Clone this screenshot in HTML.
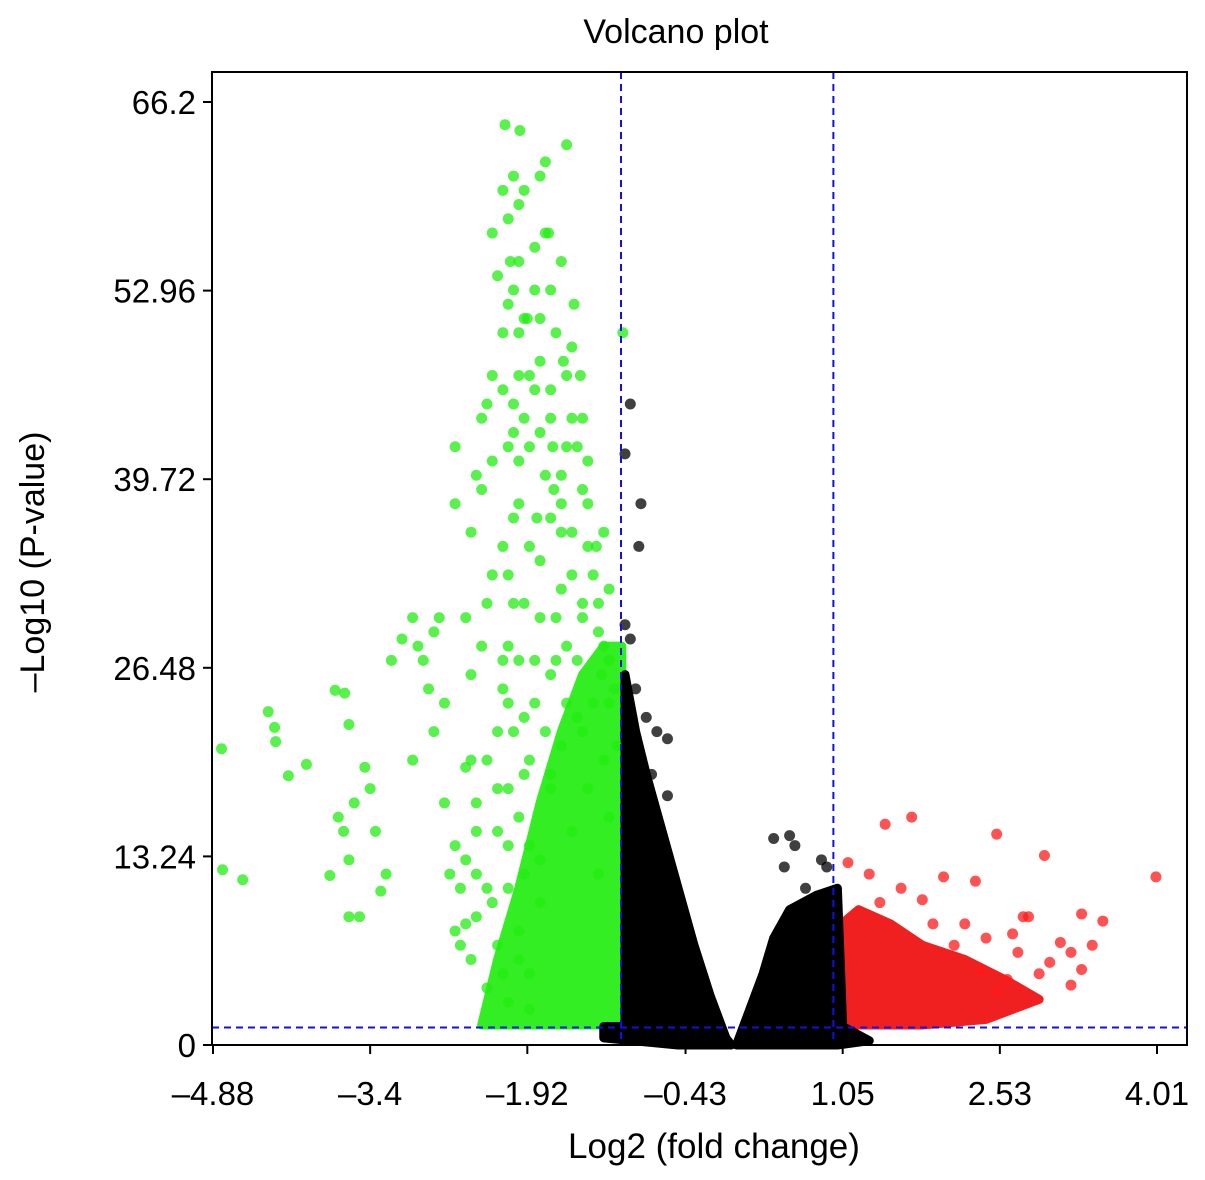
<!DOCTYPE html>
<html><head><meta charset="utf-8"><style>
html,body{margin:0;padding:0;background:#fff}
svg{display:block;font-family:"Liberation Sans",Arial,sans-serif}
</style></head><body>
<svg id="chart" width="1205" height="1180" viewBox="0 0 1205 1180">
<text x="676" y="43" font-size="34" text-anchor="middle">Volcano plot</text>
<g id="marks"></g>
<g id="axes"></g>
</svg>
<script>
const xTicks=[-4.88,-3.4,-1.92,-0.43,1.05,2.53,4.01];
const yTicks=[0,13.24,26.48,39.72,52.96,66.2];
const greenPts=[-4.8,20.8,-4.79,12.3,-4.6,11.6,-4.36,23.4,-4.3,22.3,-4.29,21.3,-4.17,18.9,-4.0,19.7,-3.73,24.9,-3.64,24.7,-3.6,22.5,-3.78,11.9,-3.7,16,-3.65,15,-3.6,13,-3.55,17,-3.6,9,-3.5,9,-3.45,19.5,-3.4,18,-3.35,15,-3.3,10.8,-3.25,12,-3.2,27,-3.1,28.5,-3.0,30,-3.0,20,-2.95,28,-2.9,27,-2.85,25,-2.8,22,-2.8,29,-2.75,30,-2.7,24,-2.7,17,-2.65,12,-2.6,8,-2.55,7,-2.5,8.5,-2.5,19.5,-2.45,20,-2.4,12,-2.4,15,-2.6,38,-2.45,36,-2.6,42,-2.25,10,-2.3,31,-2.2,22,-2.15,5,-2.1,14,-2.4,40,-2.35,39,-2.15,35,-2.3,45,-2.25,47,-2.15,60,-2.1,58,-2.05,61,-2.0,59,-2.0,55,-1.95,51,-2.13,64.6,-1.99,64.2,-1.8,61,-1.75,62,-1.75,57,-1.7,53,-1.55,63.2,-1.6,55,-1.55,47,-1.5,44,-1.45,42,-1.4,39,-1.02,50,-2.0,8,-2.1,28,-2.05,31,-1.85,24,-2.0,38,-2.05,45,-2.0,41,-1.8,34,-1.7,26,-1.85,46,-1.65,30,-1.6,36,-1.55,28,-1.5,33,-1.3,24,-1.4,30,-1.2,20,-1.3,33,-1.1,25,-1.2,28,-2.6,14,-2.55,11,-2.45,6,-2.45,26,-2.2,18,-2.15,25,-2.05,22,-1.95,19,-1.9,14,-2.15,50,-2.1,52,-2.05,43,-2.0,47,-1.9,42,-1.85,56,-1.8,48,-1.75,40,-1.7,44,-1.6,38,-1.35,35,-1.15,27,-1.25,31,-1.9,5,-1.8,10,-1.7,18,-1.6,21,-1.5,15,-1.45,23,-1.35,18,-1.25,12,-1.15,16,-2.08,55,-1.92,51,-1.72,57,-1.58,48,-1.83,37,-1.67,39,-1.68,42,-1.22,26,-1.27,35,-1.08,21,
-2.25,57,-1.95,60,-2.2,54,-2.05,53,-1.85,53,-1.65,50,-1.5,49,-2.0,50,-1.8,51,-2.15,46,-1.9,47,-1.7,46,-1.55,42,-1.4,44,-2.35,44,-2.25,41,-2.1,42,-1.95,44,-1.8,43,-1.6,40,-2.05,37,-1.9,35,-1.7,37,-1.5,36,-1.35,38,-1.2,36,-2.25,33,-2.1,33,-1.95,31,-1.8,30,-1.6,32,-1.4,31,-1.25,29,-2.15,27,-2.0,27,-1.85,27,-1.65,27,-1.45,27,-2.35,28,-2.5,30,-2.1,24,-1.95,23,-1.75,22,-1.55,24,-1.4,22,-2.3,20,-2.1,18,-1.9,20,-1.7,19,-2.4,17,-2.2,15,-2.0,16,-1.8,13,-2.5,13,-2.3,11,-2.1,11,-1.95,12,-2.4,9,-2.2,7,-2.0,6,-2.3,4,-2.1,3,-1.9,2.5,-1.35,41,-1.42,47,-1.48,52,-1.15,32,-1.15,24];
const greenCloud=[-2.35,1.4,-2.2,6,-2.0,11,-1.8,17,-1.6,22,-1.4,26,-1.2,28,-1.03,28,-1.03,1.4];
const redPts=[1.45,15.5,1.7,16,2.5,14.8,2.95,13.3,4.0,11.8,3.3,9.2,3.5,8.7,2.75,9,2.8,9,3.4,7,3.2,6.5,3.1,7.2,3.0,5.8,3.3,5.3,3.2,4.2,2.9,5,2.7,6.5,2.6,4.6,2.5,3.8,2.3,11.5,2.0,11.8,1.3,12,1.1,12.8,1.6,11,1.8,10.2,2.2,8.5,2.4,7.5,1.9,8.5,2.1,7,1.4,10,2.65,7.8,2.35,5.2];
const redCloud=[1.04,1.4,1.04,8.5,1.2,9.5,1.5,8.5,1.8,7,2.2,6,2.6,4.5,2.9,3.2,2.4,1.8,1.8,1.4];
const blackPts=[-0.95,45,-1.0,41.5,-0.85,38,-0.87,35,-1.0,29.5,-0.95,28.5,-0.8,23,-0.7,22,-0.6,21.5,-0.9,25,-0.75,19,-0.6,17.5,0.4,14.5,0.55,14.7,0.6,14,0.9,12.5,0.85,13,0.7,11,0.5,12.5];
const blackLeft=[-1.0,1.3,-1.0,26,-0.9,22,-0.8,19,-0.65,15,-0.5,11,-0.35,7,-0.2,3.5,-0.05,0.5,0,0,-0.5,0,-1.2,0.5,-1.2,1.3];
const blackRight=[0.05,0,0.15,2,0.3,5,0.4,7.5,0.55,9.5,0.8,10.5,1.0,11,1.05,1.3,1.3,0.3,1.0,0];
const vLines=[-1,1];
const hLine=[1.3];

const L=212,R=1187,T=72,B=1045;
const xs=v=>213+(v+4.88)*(1157-213)/8.89;
const ys=v=>1045-v*(1045-102)/66.2;
const NS='http://www.w3.org/2000/svg';
const marks=document.getElementById('marks'),axes=document.getElementById('axes');
function mk(tag,attrs,parent){const e=document.createElementNS(NS,tag);for(const k in attrs)e.setAttribute(k,attrs[k]);parent.appendChild(e);return e;}
function poly(arr,color,name){
  let p=[];for(let i=0;i<arr.length;i+=2)p.push(xs(arr[i])+','+ys(arr[i+1]));
  const e=mk('polygon',{points:p.join(' '),fill:color,stroke:color,'stroke-width':9,'stroke-linejoin':'round'},marks);
  
  
}
function pts(arr,color,name){
  for(let i=0;i<arr.length;i+=2){
    const c=mk('circle',{cx:xs(arr[i]),cy:ys(arr[i+1]),r:5.5,fill:color,'fill-opacity':0.75},marks);
    
    
  }
}
poly(greenCloud,'#33ee22','green-cloud');
poly(redCloud,'#f02020','red-cloud');
poly(blackLeft,'#000','black-cloud-left');
poly(blackRight,'#000','black-cloud-right');
pts(greenPts,'#22ee11','green-point');
pts(redPts,'#ff1a1a','red-point');
pts(blackPts,'#000','black-point');
vLines.forEach(v=>{const l=mk('line',{x1:xs(v)-4,x2:xs(v)-4,y1:T,y2:B,stroke:'#1010ee','stroke-width':2,'stroke-dasharray':'7,5'},axes);
  
  });
hLine.forEach(v=>{const l=mk('line',{x1:L,x2:R,y1:ys(v)+1,y2:ys(v)+1,stroke:'#1010ee','stroke-width':2,'stroke-dasharray':'7,5'},axes);
  
  });
const fr=mk('rect',{x:L,y:T,width:R-L,height:B-T,fill:'none',stroke:'#000','stroke-width':2},axes);


xTicks.forEach(v=>{
  mk('line',{x1:xs(v),x2:xs(v),y1:B,y2:B+9,stroke:'#000','stroke-width':2},axes);
  const t=mk('text',{x:xs(v),y:B+60,'font-size':33,'text-anchor':'middle'},axes);t.textContent=String(v).replace('-','\u2013');
  
  
});
yTicks.forEach(v=>{
  mk('line',{x1:L-9,x2:L,y1:ys(v),y2:ys(v),stroke:'#000','stroke-width':2},axes);
  const t=mk('text',{x:L-16,y:ys(v)+12,'font-size':33,'text-anchor':'end'},axes);t.textContent=v;
  
  
});
const xt=mk('text',{x:714,y:1158,'font-size':35,'text-anchor':'middle'},axes);xt.textContent='Log2 (fold change)';


const yt=mk('text',{x:0,y:0,'font-size':34,'text-anchor':'middle',transform:'translate(44,562) rotate(-90)'},axes);yt.textContent='\u2013Log10 (P-value)';


</script>
</body></html>
